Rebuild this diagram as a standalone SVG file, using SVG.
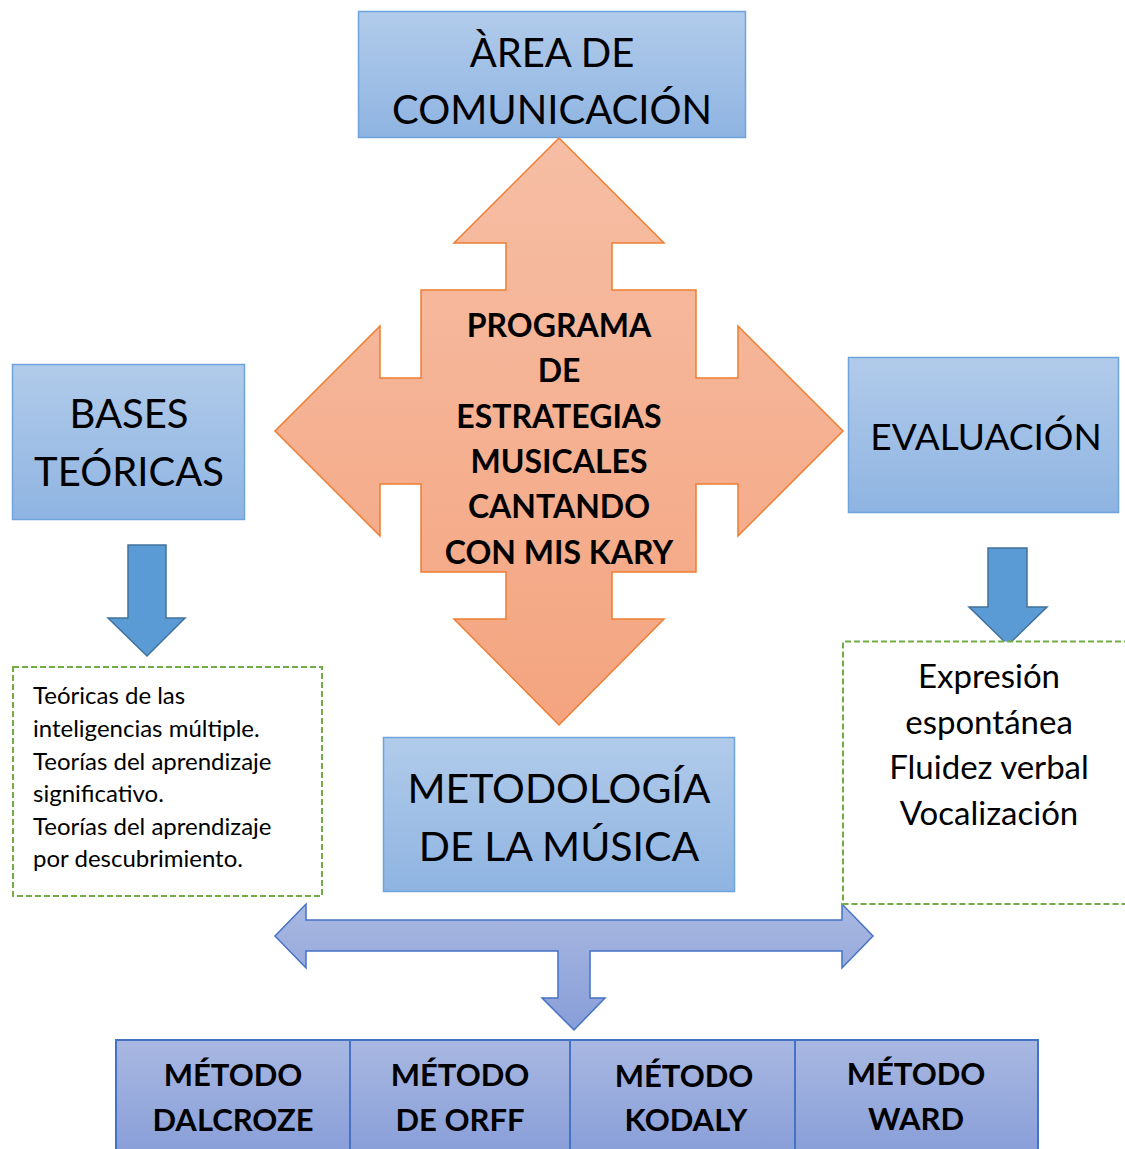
<svg xmlns="http://www.w3.org/2000/svg" width="1125" height="1149" viewBox="0 0 1125 1149">
<defs>
<linearGradient id="gBlue" x1="0" y1="0" x2="0" y2="1"><stop offset="0" stop-color="#B1CBEA"/><stop offset="1" stop-color="#8FB4E2"/></linearGradient>
<linearGradient id="gOrange" x1="0" y1="0" x2="0" y2="1"><stop offset="0" stop-color="#F6BEA5"/><stop offset="1" stop-color="#F4A47F"/></linearGradient>
<linearGradient id="gPurple" x1="0" y1="0" x2="0" y2="1"><stop offset="0" stop-color="#A9B8E2"/><stop offset="1" stop-color="#889ED8"/></linearGradient>
<style>
.box{fill:url(#gBlue);stroke:#6FA3DC;stroke-width:1.5}
.t{font-family:Lato,"Liberation Sans",sans-serif;fill:#000;text-anchor:middle}
.b{font-weight:bold}
.dash{fill:#fff;stroke:#70AD47;stroke-width:2;stroke-dasharray:6,3}
.down{fill:#5B9BD5;stroke:#41719C;stroke-width:1.5}
.purple{fill:url(#gPurple);stroke:#4472C4;stroke-width:1.5}
</style>
</defs>
<g id="connectors">
<path class="down" d="M128,545 H166 V618 H185 L147,656 L108,618 H128 Z"/>
<path class="down" d="M988,548 H1027 V607 H1047 L1008,645 L969,607 H988 Z"/>
<path class="purple" d="M275,936 L306,904 V920 H842 V904 L873,936 L842,968 V951 H590 V998 H605 L574,1030 L542,998 H558 V951 H306 V968 Z"/>
</g>
<g id="area">
<rect class="box" x="358.5" y="11.5" width="387" height="126"/>
<text class="t" x="552" y="67" font-size="40">ÀREA DE</text>
<text class="t" x="552" y="124" font-size="40">COMUNICACIÓN</text>
</g>
<g id="programa">
<path d="M559,138 L664,243 H612 V290 H696 V378 H738 V326 L843,431 L738,536 V484 H696 V572 H612 V619 H664 L559,725 L454,619 H506 V572 H421 V484 H380 V536 L275,431 L380,326 V378 H421 V290 H506 V243 H454 Z" fill="url(#gOrange)" stroke="#ED7D31" stroke-width="1.5"/>
<text class="t b" x="559" y="337" font-size="32">PROGRAMA</text>
<text class="t b" x="559" y="382" font-size="32">DE</text>
<text class="t b" x="559" y="428" font-size="32">ESTRATEGIAS</text>
<text class="t b" x="559" y="473" font-size="32">MUSICALES</text>
<text class="t b" x="559" y="518" font-size="32">CANTANDO</text>
<text class="t b" x="559" y="564" font-size="32">CON MIS KARY</text>
</g>
<g id="bases">
<rect class="box" x="12.5" y="364.5" width="232" height="155"/>
<text class="t" x="129" y="428" font-size="40">BASES</text>
<text class="t" x="129" y="486" font-size="40">TEÓRICAS</text>
</g>
<g id="evaluacion">
<rect class="box" x="848.5" y="357.5" width="270" height="155"/>
<text class="t" x="986" y="450" font-size="37">EVALUACIÓN</text>
</g>
<g id="teorias">
<rect class="dash" x="13" y="667" width="309" height="229"/>
<text class="t" style="text-anchor:start" font-size="24"><tspan x="33" y="704">Teóricas de las</tspan><tspan x="33" y="737">inteligencias múltiple.</tspan><tspan x="33" y="770">Teorías del aprendizaje</tspan><tspan x="33" y="802">significativo.</tspan><tspan x="33" y="835">Teorías del aprendizaje</tspan><tspan x="33" y="867">por descubrimiento.</tspan></text>
</g>
<g id="criterios">
<path class="dash" d="M1130,641.5 H843 V904 H1130"/>
<text class="t" font-size="33"><tspan x="989" y="688">Expresión</tspan><tspan x="989" y="734">espontánea</tspan><tspan x="989" y="779">Fluidez verbal</tspan><tspan x="989" y="825">Vocalización</tspan></text>
</g>
<g id="metodologia">
<rect class="box" x="383.5" y="737.5" width="351" height="154"/>
<text class="t" x="559" y="803" font-size="41">METODOLOGÍA</text>
<text class="t" x="559" y="861" font-size="41">DE LA MÚSICA</text>
</g>
<g id="metodos">
<rect x="116" y="1040" width="922" height="115" fill="url(#gPurple)" stroke="#4472C4" stroke-width="2"/>
<line x1="350" y1="1040" x2="350" y2="1149" stroke="#4472C4" stroke-width="2"/>
<line x1="570" y1="1040" x2="570" y2="1149" stroke="#4472C4" stroke-width="2"/>
<line x1="795" y1="1040" x2="795" y2="1149" stroke="#4472C4" stroke-width="2"/>
<text class="t b" x="233" y="1086" font-size="31">MÉTODO</text>
<text class="t b" x="233" y="1131" font-size="31">DALCROZE</text>
<text class="t b" x="460" y="1086" font-size="31">MÉTODO</text>
<text class="t b" x="460" y="1131" font-size="31">DE ORFF</text>
<text class="t b" x="684" y="1087" font-size="31">MÉTODO</text>
<text class="t b" x="686" y="1131" font-size="31">KODALY</text>
<text class="t b" x="916" y="1085" font-size="31">MÉTODO</text>
<text class="t b" x="916" y="1130" font-size="31">WARD</text>
</g>
</svg>
